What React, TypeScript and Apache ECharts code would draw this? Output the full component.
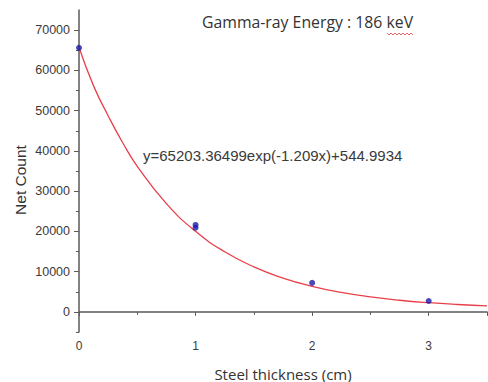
import React, { useEffect, useRef } from "react";
import * as echarts from "echarts";

const measuredX = [0, 1, 1, 2, 3];
const measuredY = [65600, 21600, 20900, 7200, 2700];

const fitX = [0, 0.125, 0.25, 0.375, 0.5, 0.75, 1, 1.25, 1.5, 1.75, 2, 2.25, 2.5, 2.75, 3, 3.25, 3.5];
const fitY = [65750, 56150, 48740, 42030, 36170, 26880, 20010, 14930, 11180, 8410, 6360, 4840, 3720, 2890, 2280, 1830, 1490];

const yLabelValues = [0, 10000, 20000, 30000, 40000, 50000, 60000, 70000];
const yMinorValues = [-5000, 5000, 15000, 25000, 35000, 45000, 55000, 65000];

const titleText = "Gamma-ray Energy : 186 keV";
const equationText = "y=65203.36499exp(-1.209x)+544.9934";
const xAxisName = "Steel thickness (cm)";
const yAxisName = "Net Count";

export default function App() {
  const ref = useRef<HTMLDivElement>(null);
  useEffect(() => {
    if (!ref.current) return;
    const chart = echarts.init(ref.current, undefined, { renderer: "svg" });
    const axisColor = "#5a5a5a";
    const labelColor = "#3a3a3a";
    const wave: number[][] = [];
    for (let i = 0; i <= 13; i++) wave.push([387 + i * 2, i % 2 === 0 ? 33 : 35]);
    chart.setOption({
      animation: false,
      backgroundColor: "#ffffff",
      grid: { left: 79, right: 1, top: 10, bottom: 50, containLabel: false, outerBoundsMode: "none" },
      xAxis: {
        type: "value",
        min: 0,
        max: 3.5,
        interval: 1,
        name: xAxisName,
        nameLocation: "middle",
        nameGap: 34,
        nameTextStyle: { fontFamily: "Open Sans", fontSize: 15, color: "#333" },
        axisLine: { show: true, lineStyle: { color: axisColor, width: 1.5 } },
        axisTick: { show: true, length: 4, lineStyle: { color: axisColor } },
        minorTick: { show: true, splitNumber: 2, length: 3, lineStyle: { color: axisColor } },
        axisLabel: { color: labelColor, fontFamily: "Liberation Sans", fontSize: 12, margin: 8, showMaxLabel: false },
        splitLine: { show: false },
      },
      yAxis: [
        {
          type: "value",
          min: -5000,
          max: 75000,
          axisLine: { show: true, lineStyle: { color: axisColor, width: 1.5 } },
          axisTick: { show: true, length: 5, customValues: yLabelValues, lineStyle: { color: axisColor } },
          axisLabel: {
            color: labelColor,
            fontFamily: "Liberation Sans",
            fontSize: 12.5,
            margin: 9,
            customValues: yLabelValues,
            formatter: (v: number) => String(v),
          },
          splitLine: { show: false },
        },
        {
          type: "value",
          min: -5000,
          max: 75000,
          position: "left",
          axisLine: { show: false },
          axisTick: { show: true, length: 3, customValues: yMinorValues, lineStyle: { color: axisColor } },
          axisLabel: { show: false },
          splitLine: { show: false },
        },
      ],
      series: [
        {
          type: "line",
          data: fitX.map((x, i) => [x, fitY[i]]),
          smooth: true,
          showSymbol: false,
          symbol: "none",
          lineStyle: { color: "#e8404a", width: 1.3 },
          z: 2,
        },
        {
          type: "scatter",
          data: measuredX.map((x, i) => [x, measuredY[i]]),
          symbolSize: 6,
          itemStyle: { color: "#1c1ca8" },
          clip: false,
          z: 3,
        },
      ],
      graphic: [
        {
          type: "text",
          x: 202,
          y: 22,
          style: { text: titleText, fontFamily: "Open Sans", fontSize: 15.8, fill: "#333", verticalAlign: "middle" },
        },
        {
          type: "polyline",
          shape: { points: wave },
          style: { stroke: "#e04040", lineWidth: 0.8, fill: null },
        },
        {
          type: "text",
          x: 143,
          y: 155,
          style: { text: equationText, fontFamily: "Liberation Sans", fontSize: 15, fill: "#3a3a3a", verticalAlign: "middle" },
        },
        {
          type: "text",
          x: 20,
          y: 180,
          rotation: Math.PI / 2,
          style: {
            text: yAxisName,
            fontFamily: "Liberation Sans",
            fontSize: 15.5,
            fill: "#333",
            align: "center",
            verticalAlign: "middle",
          },
        },
      ],
    });
    return () => chart.dispose();
  }, []);
  return (
    <div
      ref={ref}
      style={{ position: "fixed", left: 0, top: 0, width: 488, height: 382, background: "#fff" }}
    />
  );
}
